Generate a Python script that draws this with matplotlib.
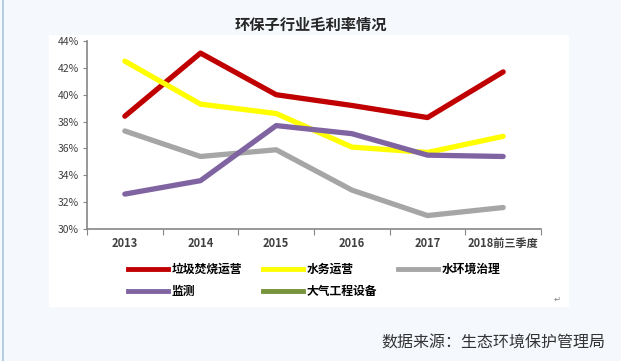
import matplotlib.pyplot as plt
from matplotlib.lines import Line2D
from matplotlib.patches import Rectangle

plt.rcParams['font.family'] = ['Noto Sans CJK SC', 'DejaVu Sans']

years = ['2013', '2014', '2015', '2016', '2017', '2018前三季度']
garbage = [38.4, 43.1, 40.0, 39.2, 38.3, 41.7]
water_ops = [42.5, 39.3, 38.6, 36.1, 35.7, 36.9]
water_env = [37.3, 35.4, 35.9, 32.9, 31.0, 31.6]
monitor = [32.6, 33.6, 37.7, 37.1, 35.5, 35.4]
air_equip = []  # only in legend, no data drawn
yticks = [30, 32, 34, 36, 38, 40, 42, 44]

W, H = 621, 361
fig = plt.figure(figsize=(W / 100, H / 100), dpi=100, facecolor='#f5f9fd')

# white panel behind chart + left border line
fig.patches.append(Rectangle((49 / W, 1 - 307 / H), (569 - 49) / W, (307 - 35) / H,
                             transform=fig.transFigure, facecolor='white', edgecolor='none', zorder=-5))
fig.add_artist(Line2D([2.5 / W, 2.5 / W], [0, 1], transform=fig.transFigure, color='#a9c6de', lw=1.2))

ax = fig.add_axes([87 / W, 1 - 229 / H, (541 - 87) / W, (229 - 41) / H])
ax.set_facecolor('none')
ax.set_zorder(2)

x = range(len(years))
ax.plot(x, garbage, color='#c00000', lw=3.8, solid_capstyle='round')
ax.plot(x, water_ops, color='#ffff00', lw=3.8, solid_capstyle='round')
ax.plot(x, water_env, color='#a6a6a6', lw=3.8, solid_capstyle='round')
ax.plot(x, monitor, color='#8064a2', lw=3.8, solid_capstyle='round')

ax.set_xlim(-0.5, len(years) - 0.5)
ax.set_ylim(30, 44)
ax.set_yticks(yticks)
ax.set_yticklabels(['%d%%' % v for v in yticks], fontsize=7.5, color='#404040')
ax.set_xticks([i - 0.5 for i in range(len(years) + 1)])
ax.set_xticklabels([])
ax.set_xticks(list(x), minor=True)
ax.set_xticklabels(years, minor=True, fontsize=8, color='#404040', fontweight='bold')
ax.tick_params(axis='x', which='major', length=4, color='#868686', direction='out')
ax.tick_params(axis='x', which='minor', length=0, pad=6)
ax.tick_params(axis='y', length=3, color='#868686', pad=3)
for s in ['top', 'right']:
    ax.spines[s].set_visible(False)
for s in ['left', 'bottom']:
    ax.spines[s].set_color('#868686')
    ax.spines[s].set_linewidth(1.2)

fig.text(311 / W, 1 - 25 / H, '环保子行业毛利率情况', ha='center', va='center',
         fontsize=11, fontweight='bold', color='#262626')

handles = [Line2D([], [], color='#c00000', lw=3.5),
           Line2D([], [], color='#a6a6a6', lw=3.5),
           Line2D([], [], color='#ffff00', lw=3.5),
           Line2D(air_equip, air_equip, color='#8064a2', lw=3.5),
           Line2D([], [], color='#77933c', lw=3.5)]
labels = ['垃圾焚烧运营', '水环境治理', '水务运营', '监测', '大气工程设备']
# column-major ordering so rows read: 垃圾/水务/水环境, 监测/大气
handles = [handles[0], handles[3], handles[2], handles[4], handles[1]]
labels = [labels[0], labels[3], labels[2], labels[4], labels[1]]
fig.legend(handles, labels, loc='upper left', bbox_to_anchor=(128 / W, 1 - 263 / H),
           ncol=3, frameon=False, fontsize=8.5, handlelength=3.4, handletextpad=0.3,
           columnspacing=1.75, labelspacing=0.75, borderpad=0, borderaxespad=0,
           prop={'weight': 'bold', 'size': 8.5})

fig.text(557 / W, 1 - 299 / H, '↵', ha='center', va='center', fontsize=6,
         color='#808080', family=['DejaVu Sans'])
fig.text(605 / W, 1 - 343 / H, '数据来源：生态环境保护管理局', ha='right', va='center',
         fontsize=11.5, color='#333333')

fig.savefig('out.png', dpi=100, facecolor=fig.get_facecolor())
